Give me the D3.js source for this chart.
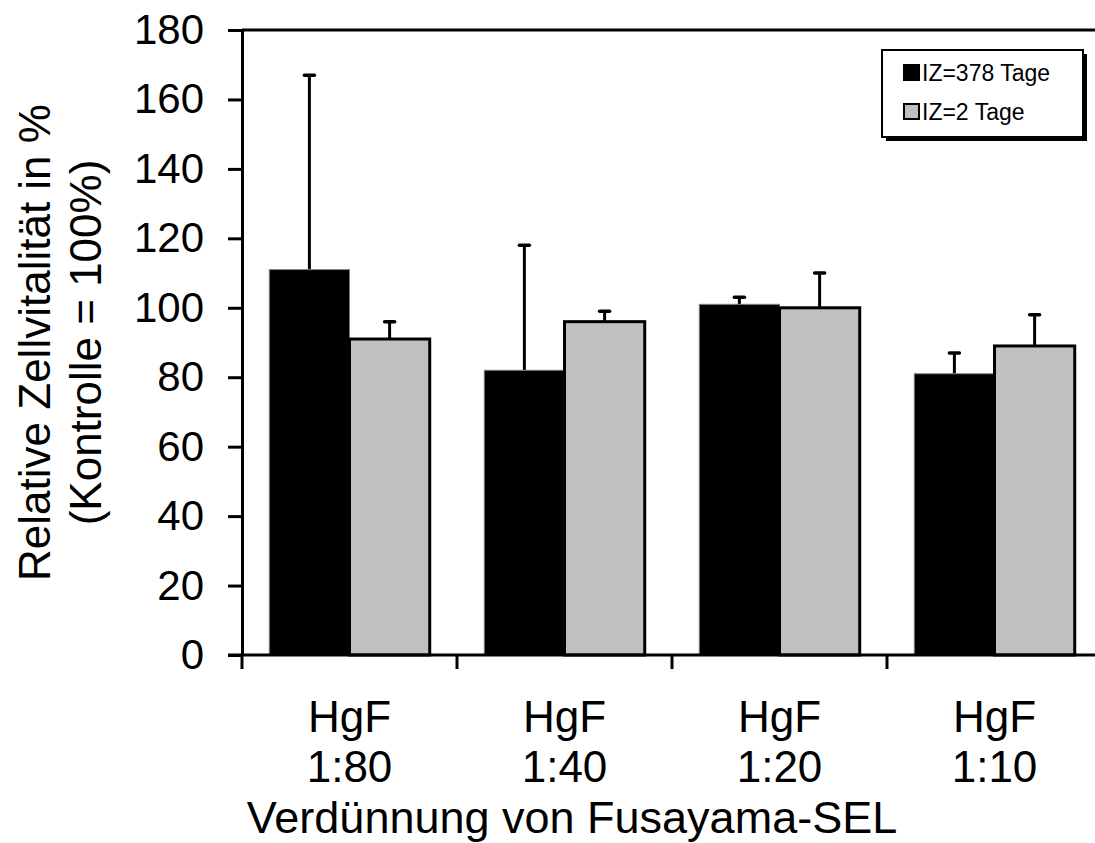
<!DOCTYPE html>
<html>
<head>
<meta charset="utf-8">
<script src="https://cdn.jsdelivr.net/npm/d3@7"></script>
<style>
  html, body { margin: 0; padding: 0; background: #fff; }
  svg { display: block; font-family: Arial, "Liberation Sans", sans-serif; }
</style>
</head>
<body>
<div id="chart"></div>
<script>
const categories = [["HgF", "1:80"], ["HgF", "1:40"], ["HgF", "1:20"], ["HgF", "1:10"]];
const seriesNames = ["IZ=378 Tage", "IZ=2 Tage"];
const seriesColors = ["#000000", "#c0c0c0"];
const vals378 = [111, 82, 101, 81];
const err378 = [56, 36, 2, 6];
const vals2 = [91, 96, 100, 89];
const err2 = [5, 3, 10, 9];
const yTicks = [0, 20, 40, 60, 80, 100, 120, 140, 160, 180];

const width = 1095, height = 843;
const margin = { top: 30, left: 242, bottom: 188 };
const plotW = 860; // wider than the window, the right edge is cut off like the original
const plotH = height - margin.top - margin.bottom;

const svg = d3.select("#chart").append("svg")
    .attr("width", width)
    .attr("height", height);

const g = svg.append("g").attr("transform", `translate(${margin.left},${margin.top})`);

const x0 = d3.scaleBand().domain(d3.range(categories.length)).range([0, plotW]).padding(0);
const x1 = d3.scaleBand().domain([0, 1]).range([0, x0.bandwidth()]).paddingInner(0).paddingOuter(0.34);
const y = d3.scaleLinear().domain([0, 180]).range([plotH, 0]);

const rows = categories.map((c, i) => [
    { s: 0, v: vals378[i], e: err378[i] },
    { s: 1, v: vals2[i], e: err2[i] }
]);

// top border
g.append("line")
    .attr("x1", 0).attr("x2", plotW)
    .attr("y1", 0).attr("y2", 0)
    .attr("stroke", "#000").attr("stroke-width", 3);

const groups = g.selectAll("g.cat")
    .data(rows)
    .enter().append("g")
    .attr("class", "cat")
    .attr("transform", (d, i) => `translate(${x0(i)},0)`);

// error bars first, so the bars sit on top of the stems
groups.selectAll("g.err")
    .data(d => d)
    .enter().append("g")
    .attr("class", "err")
    .each(function(d) {
        const cx = x1(d.s) + x1.bandwidth() / 2;
        const sel = d3.select(this);
        sel.append("line")
            .attr("x1", cx).attr("x2", cx)
            .attr("y1", y(d.v)).attr("y2", y(d.v + d.e))
            .attr("stroke", "#000").attr("stroke-width", 3);
        sel.append("line")
            .attr("x1", cx - 5).attr("x2", cx + 5)
            .attr("y1", y(d.v + d.e)).attr("y2", y(d.v + d.e))
            .attr("stroke", "#000").attr("stroke-width", 3.5)
            .attr("stroke-linecap", "round");
    });

groups.selectAll("rect")
    .data(d => d)
    .enter().append("rect")
    .attr("x", d => x1(d.s))
    .attr("width", x1.bandwidth())
    .attr("y", d => y(d.v))
    .attr("height", d => y(0) - y(d.v))
    .attr("fill", d => seriesColors[d.s])
    .attr("stroke", d => d.s === 0 ? "#7f7f7f" : "#000")
    .attr("stroke-width", d => d.s === 0 ? 1 : 3);

// y axis
const yAxis = g.append("g")
    .call(d3.axisLeft(y).tickValues(yTicks).tickSize(14).tickPadding(24).tickSizeOuter(0));
yAxis.select(".domain").attr("stroke-width", 3);
yAxis.selectAll(".tick line").attr("stroke-width", 3);
yAxis.selectAll(".tick text")
    .attr("font-size", 42)
    .attr("font-family", "Arial, 'Liberation Sans', sans-serif")
    .attr("fill", "#000");

// x axis: ticks at category boundaries
const xAxisG = g.append("g").attr("transform", `translate(0,${plotH})`);
xAxisG.append("line")
    .attr("x1", -14).attr("x2", plotW)
    .attr("y1", 0).attr("y2", 0)
    .attr("stroke", "#000").attr("stroke-width", 3);
xAxisG.selectAll("line.xt")
    .data(d3.range(categories.length))
    .enter().append("line")
    .attr("class", "xt")
    .attr("x1", i => x0(i)).attr("x2", i => x0(i))
    .attr("y1", 0).attr("y2", 14)
    .attr("stroke", "#000").attr("stroke-width", 3);

const xLabels = xAxisG.selectAll("text.xl")
    .data(categories)
    .enter().append("text")
    .attr("class", "xl")
    .attr("text-anchor", "middle")
    .attr("font-size", 44)
    .attr("fill", "#000")
    .attr("transform", (d, i) => `translate(${x0(i) + x0.bandwidth() / 2},0)`);
xLabels.append("tspan").attr("x", 0).attr("y", 77).text(d => d[0]);
xLabels.append("tspan").attr("x", 0).attr("y", 127).text(d => d[1]);

svg.append("text")
    .attr("x", 572).attr("y", 833)
    .attr("text-anchor", "middle")
    .attr("font-size", 45)
    .attr("fill", "#000")
    .text("Verdünnung von Fusayama-SEL");

// y title, two lines
const yt = svg.append("text")
    .attr("transform", `translate(0,${margin.top + plotH / 2}) rotate(-90)`)
    .attr("text-anchor", "middle")
    .attr("font-size", 44)
    .attr("fill", "#000");
yt.append("tspan").attr("x", 0).attr("y", 50).text("Relative Zellvitalität in %");
yt.append("tspan").attr("x", 0).attr("y", 101).text("(Kontrolle = 100%)");

// legend
const lg = svg.append("g").attr("transform", "translate(882,50)");
lg.append("rect")
    .attr("x", 4).attr("y", 4).attr("width", 201).attr("height", 87)
    .attr("fill", "#000");
lg.append("rect")
    .attr("x", 0).attr("y", 0).attr("width", 201).attr("height", 87)
    .attr("fill", "#fff").attr("stroke", "#000").attr("stroke-width", 2);
const li = lg.selectAll("g.li")
    .data(seriesNames)
    .enter().append("g")
    .attr("class", "li")
    .attr("transform", (d, i) => `translate(22,${23 + i * 39})`);
li.append("rect")
    .attr("x", 0).attr("y", -8).attr("width", 15).attr("height", 15)
    .attr("fill", (d, i) => seriesColors[i])
    .attr("stroke", "#000").attr("stroke-width", 2);
li.append("text")
    .attr("x", 18).attr("y", 0).attr("dy", "0.35em")
    .attr("font-size", 23)
    .attr("fill", "#000")
    .text(d => d);
</script>
</body>
</html>
